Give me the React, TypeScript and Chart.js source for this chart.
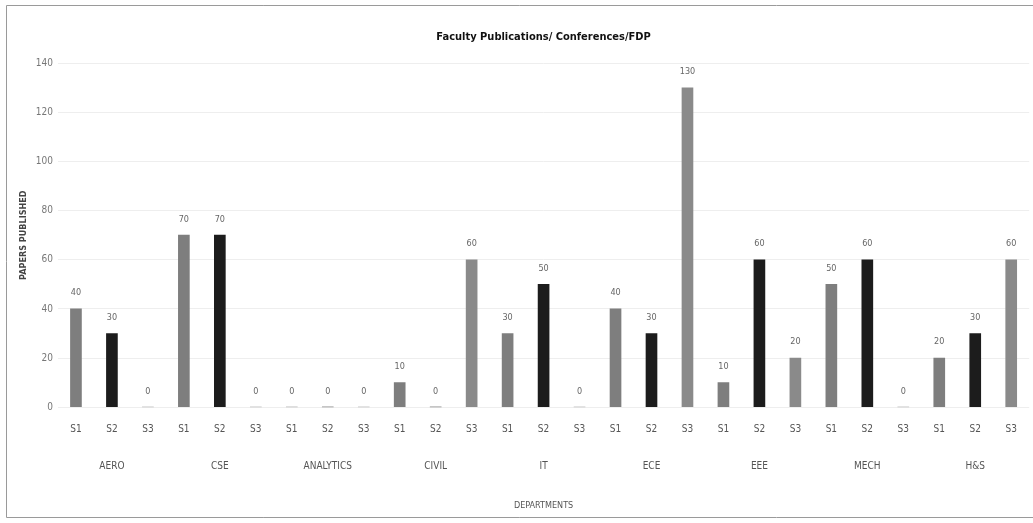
import React, { useEffect, useRef } from "react";
import { Chart, registerables } from "chart.js";

Chart.register(...registerables);

const chartTitle = "Faculty Publications/ Conferences/FDP";
const yAxisTitle = "PAPERS PUBLISHED";
const xAxisTitle = "DEPARTMENTS";
const departments = ["AERO", "CSE", "ANALYTICS", "CIVIL", "IT", "ECE", "EEE", "MECH", "H&S"];
const semesters = ["S1", "S2", "S3"];
const s1Values = [40, 70, 0, 10, 30, 40, 10, 50, 20];
const s2Values = [30, 70, 0, 0, 50, 30, 60, 60, 30];
const s3Values = [0, 0, 0, 60, 0, 130, 20, 0, 60];
const semesterColors = ["#7e7e7e", "#1c1c1c", "#8a8a8a"];
const yMin = 0;
const yMax = 140;
const yStep = 20;

const FONT = "'Liberation Sans Narrow', 'DejaVu Sans Condensed', Arial, sans-serif";

export default function App() {
  const ref = useRef<HTMLCanvasElement | null>(null);

  useEffect(() => {
    document.body.style.margin = "0";
    const canvas = ref.current;
    if (!canvas) return;

    const series = [s1Values, s2Values, s3Values];
    const labels: string[] = [];
    const values: number[] = [];
    const colors: string[] = [];
    departments.forEach((_, d) => {
      semesters.forEach((sem, s) => {
        labels.push(sem);
        values.push(series[s][d]);
        colors.push(semesterColors[s]);
      });
    });

    const frame = {
      id: "frame",
      beforeDraw(chart: any) {
        const c = chart.ctx;
        c.save();
        c.fillStyle = "#ffffff";
        c.fillRect(0, 0, chart.width, chart.height);
        c.strokeStyle = "#9a9a9a";
        c.lineWidth = 1;
        c.beginPath();
        c.moveTo(6.5, 5.5);
        c.lineTo(chart.width, 5.5);
        c.moveTo(6.5, 5.5);
        c.lineTo(6.5, 517.5);
        c.lineTo(chart.width, 517.5);
        c.stroke();
        c.restore();
      },
    };

    const valueLabels = {
      id: "valueLabels",
      afterDatasetsDraw(chart: any) {
        const c = chart.ctx;
        const meta = chart.getDatasetMeta(0);
        c.save();
        c.font = `9px ${FONT}`;
        c.fillStyle = "#666666";
        c.textAlign = "center";
        c.textBaseline = "middle";
        meta.data.forEach((bar: any, i: number) => {
          c.fillText(String(values[i]), bar.x, bar.y - 16);
        });
        c.restore();
      },
    };

    const chart = new Chart(canvas, {
      type: "bar",
      data: {
        labels,
        datasets: [
          {
            label: "Papers",
            data: values,
            backgroundColor: colors,
            barThickness: 11,
          },
        ],
      },
      options: {
        animation: false,
        responsive: false,
        maintainAspectRatio: false,
        layout: { padding: { left: 16, right: 0, top: 31, bottom: 8 } },
        plugins: {
          legend: { display: false },
          tooltip: { enabled: false },
          title: {
            display: true,
            fullSize: false,
            text: chartTitle,
            color: "#111111",
            font: { family: FONT, size: 11, weight: "bold" },
            padding: { top: 0, bottom: 19 },
          },
        },
        scales: {
          x: {
            type: "category",
            weight: 0,
            grid: { display: false, drawTicks: false },
            border: { display: false },
            ticks: {
              autoSkip: false,
              maxRotation: 0,
              padding: 16,
              color: "#555555",
              font: { family: FONT, size: 10 },
            },
          },
          x2: {
            type: "category",
            position: "bottom",
            weight: 1,
            labels: departments,
            offset: true,
            grid: { display: false, drawTicks: false },
            border: { display: false },
            ticks: {
              autoSkip: false,
              maxRotation: 0,
              padding: 9,
              color: "#555555",
              font: { family: FONT, size: 10 },
            },
            title: {
              display: true,
              text: xAxisTitle,
              color: "#555555",
              font: { family: FONT, size: 9 },
              padding: { top: 19, bottom: 4 },
            },
          },
          y: {
            min: yMin,
            max: yMax,
            grid: { color: "#eeeeee", drawTicks: false },
            border: { display: false },
            ticks: {
              stepSize: yStep,
              padding: 5,
              color: "#777777",
              font: { family: FONT, size: 10 },
            },
            title: {
              display: true,
              text: yAxisTitle,
              color: "#444444",
              font: { family: FONT, size: 9, weight: "bold" },
              padding: { top: 2, bottom: 2 },
            },
          },
        },
      },
      plugins: [frame, valueLabels],
    });

    return () => chart.destroy();
  }, []);

  return (
    <div style={{ position: "absolute", left: 0, top: 0, width: 1033, height: 523 }}>
      <canvas ref={ref} width={1033} height={523} style={{ width: 1033, height: 523 }} />
    </div>
  );
}
